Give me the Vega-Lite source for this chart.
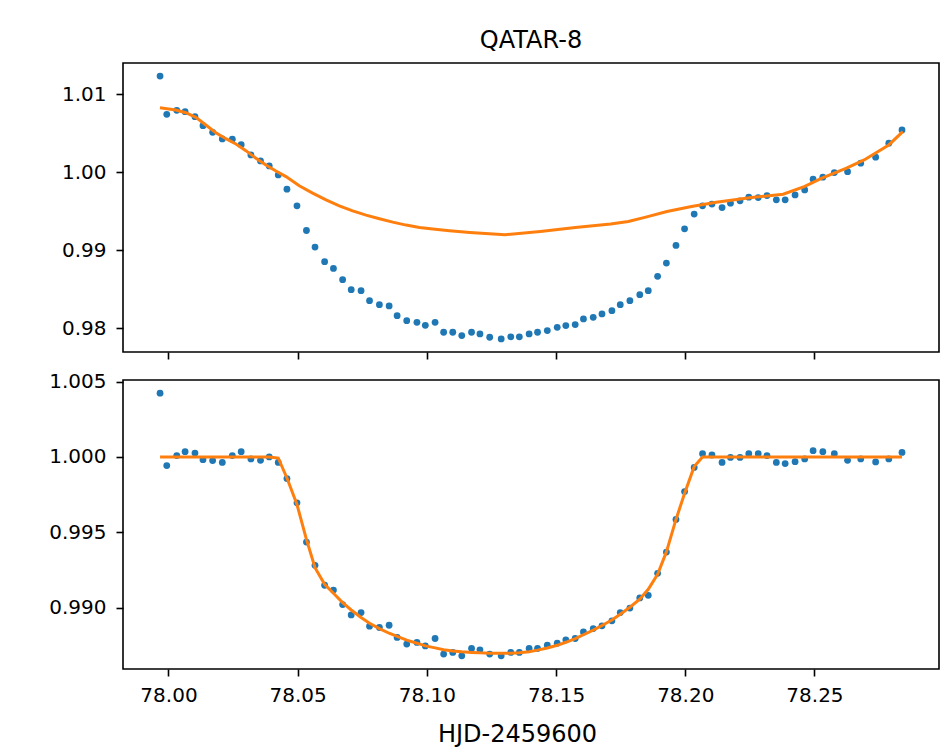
{
  "$schema": "https://vega.github.io/schema/vega-lite/v6.json",
  "background": "white",
  "padding": {"left": 47, "top": 28, "right": 10, "bottom": 5},
  "config": {
    "font": "DejaVu Sans",
    "view": {"stroke": "black", "strokeWidth": 1.6},
    "axis": {
      "domain": false, "grid": false,
      "tickColor": "black", "tickSize": 7, "tickWidth": 1.6,
      "labelFont": "DejaVu Sans", "labelFontSize": 20, "labelColor": "black",
      "titleFont": "DejaVu Sans", "titleFontWeight": "normal", "titleColor": "black"
    }
  },
  "datasets": {
    "obs": [
      {"t": 77.99674, "raw": 1.01230, "flat": 1.00423, "model": 1.00000},
      {"t": 77.99934, "raw": 1.00740, "flat": 0.99943, "model": 1.00000},
      {"t": 78.00320, "raw": 1.00792, "flat": 1.00009, "model": 1.00000},
      {"t": 78.00643, "raw": 1.00774, "flat": 1.00035, "model": 1.00000},
      {"t": 78.01025, "raw": 1.00710, "flat": 1.00026, "model": 1.00000},
      {"t": 78.01335, "raw": 1.00595, "flat": 0.99982, "model": 1.00000},
      {"t": 78.01709, "raw": 1.00510, "flat": 0.99976, "model": 1.00000},
      {"t": 78.02083, "raw": 1.00425, "flat": 0.99964, "model": 1.00000},
      {"t": 78.02471, "raw": 1.00421, "flat": 1.00009, "model": 1.00000},
      {"t": 78.02814, "raw": 1.00352, "flat": 1.00035, "model": 1.00000},
      {"t": 78.03190, "raw": 1.00220, "flat": 0.99987, "model": 1.00000},
      {"t": 78.03562, "raw": 1.00143, "flat": 0.99978, "model": 1.00000},
      {"t": 78.03899, "raw": 1.00079, "flat": 1.00000, "model": 1.00000},
      {"t": 78.04248, "raw": 0.99964, "flat": 0.99964, "model": 0.99993},
      {"t": 78.04585, "raw": 0.99781, "flat": 0.99857, "model": 0.99861},
      {"t": 78.04973, "raw": 0.99568, "flat": 0.99696, "model": 0.99685},
      {"t": 78.05339, "raw": 0.99252, "flat": 0.99436, "model": 0.99454},
      {"t": 78.05671, "raw": 0.99040, "flat": 0.99282, "model": 0.99266},
      {"t": 78.06043, "raw": 0.98852, "flat": 0.99150, "model": 0.99156},
      {"t": 78.06384, "raw": 0.98766, "flat": 0.99118, "model": 0.99097},
      {"t": 78.06740, "raw": 0.98621, "flat": 0.99022, "model": 0.99035},
      {"t": 78.07072, "raw": 0.98494, "flat": 0.98953, "model": 0.98986},
      {"t": 78.07453, "raw": 0.98481, "flat": 0.98969, "model": 0.98936},
      {"t": 78.07781, "raw": 0.98353, "flat": 0.98879, "model": 0.98898},
      {"t": 78.08163, "raw": 0.98302, "flat": 0.98870, "model": 0.98863},
      {"t": 78.08539, "raw": 0.98285, "flat": 0.98885, "model": 0.98832},
      {"t": 78.08849, "raw": 0.98161, "flat": 0.98804, "model": 0.98811},
      {"t": 78.09221, "raw": 0.98097, "flat": 0.98760, "model": 0.98786},
      {"t": 78.09616, "raw": 0.98075, "flat": 0.98771, "model": 0.98766},
      {"t": 78.09940, "raw": 0.98037, "flat": 0.98748, "model": 0.98748},
      {"t": 78.10318, "raw": 0.98075, "flat": 0.98797, "model": 0.98735},
      {"t": 78.10649, "raw": 0.97948, "flat": 0.98694, "model": 0.98722},
      {"t": 78.11002, "raw": 0.97948, "flat": 0.98705, "model": 0.98715},
      {"t": 78.11351, "raw": 0.97905, "flat": 0.98682, "model": 0.98709},
      {"t": 78.11729, "raw": 0.97948, "flat": 0.98731, "model": 0.98705},
      {"t": 78.12054, "raw": 0.97927, "flat": 0.98722, "model": 0.98702},
      {"t": 78.12432, "raw": 0.97884, "flat": 0.98694, "model": 0.98700},
      {"t": 78.12876, "raw": 0.97863, "flat": 0.98682, "model": 0.98699},
      {"t": 78.13248, "raw": 0.97889, "flat": 0.98705, "model": 0.98700},
      {"t": 78.13579, "raw": 0.97889, "flat": 0.98705, "model": 0.98703},
      {"t": 78.13957, "raw": 0.97927, "flat": 0.98731, "model": 0.98710},
      {"t": 78.14283, "raw": 0.97948, "flat": 0.98731, "model": 0.98720},
      {"t": 78.14661, "raw": 0.97969, "flat": 0.98753, "model": 0.98734},
      {"t": 78.15045, "raw": 0.98011, "flat": 0.98766, "model": 0.98752},
      {"t": 78.15378, "raw": 0.98033, "flat": 0.98788, "model": 0.98772},
      {"t": 78.15740, "raw": 0.98046, "flat": 0.98797, "model": 0.98796},
      {"t": 78.16060, "raw": 0.98119, "flat": 0.98841, "model": 0.98822},
      {"t": 78.16438, "raw": 0.98139, "flat": 0.98863, "model": 0.98853},
      {"t": 78.16777, "raw": 0.98183, "flat": 0.98881, "model": 0.98883},
      {"t": 78.17161, "raw": 0.98225, "flat": 0.98914, "model": 0.98920},
      {"t": 78.17484, "raw": 0.98302, "flat": 0.98969, "model": 0.98958},
      {"t": 78.17857, "raw": 0.98353, "flat": 0.98999, "model": 0.99004},
      {"t": 78.18240, "raw": 0.98430, "flat": 0.99066, "model": 0.99057},
      {"t": 78.18568, "raw": 0.98481, "flat": 0.99083, "model": 0.99123},
      {"t": 78.18930, "raw": 0.98664, "flat": 0.99229, "model": 0.99222},
      {"t": 78.19270, "raw": 0.98835, "flat": 0.99370, "model": 0.99371},
      {"t": 78.19641, "raw": 0.99060, "flat": 0.99586, "model": 0.99586},
      {"t": 78.19973, "raw": 0.99274, "flat": 0.99771, "model": 0.99758},
      {"t": 78.20345, "raw": 0.99462, "flat": 0.99931, "model": 0.99936},
      {"t": 78.20669, "raw": 0.99568, "flat": 1.00022, "model": 1.00000},
      {"t": 78.21033, "raw": 0.99590, "flat": 1.00013, "model": 1.00000},
      {"t": 78.21424, "raw": 0.99546, "flat": 0.99964, "model": 1.00000},
      {"t": 78.21750, "raw": 0.99602, "flat": 0.99997, "model": 1.00000},
      {"t": 78.22120, "raw": 0.99632, "flat": 0.99997, "model": 1.00000},
      {"t": 78.22459, "raw": 0.99679, "flat": 1.00022, "model": 1.00000},
      {"t": 78.22824, "raw": 0.99674, "flat": 1.00022, "model": 1.00000},
      {"t": 78.23163, "raw": 0.99700, "flat": 1.00009, "model": 1.00000},
      {"t": 78.23525, "raw": 0.99645, "flat": 0.99964, "model": 1.00000},
      {"t": 78.23866, "raw": 0.99645, "flat": 0.99956, "model": 1.00000},
      {"t": 78.24250, "raw": 0.99708, "flat": 0.99969, "model": 1.00000},
      {"t": 78.24622, "raw": 0.99772, "flat": 0.99987, "model": 1.00000},
      {"t": 78.24948, "raw": 0.99909, "flat": 1.00042, "model": 1.00000},
      {"t": 78.25324, "raw": 0.99935, "flat": 1.00035, "model": 1.00000},
      {"t": 78.25769, "raw": 0.99994, "flat": 1.00022, "model": 1.00000},
      {"t": 78.26281, "raw": 1.00006, "flat": 0.99978, "model": 1.00000},
      {"t": 78.26791, "raw": 1.00114, "flat": 0.99987, "model": 1.00000},
      {"t": 78.27368, "raw": 1.00191, "flat": 0.99967, "model": 1.00000},
      {"t": 78.27878, "raw": 1.00370, "flat": 0.99987, "model": 1.00000},
      {"t": 78.28388, "raw": 1.00540, "flat": 1.00030, "model": 1.00000}
    ],
    "trend": [
      {"t": 77.99671, "flux": 1.00825},
      {"t": 78.00283, "flux": 1.00795},
      {"t": 78.00671, "flux": 1.00761},
      {"t": 78.01058, "flux": 1.00702},
      {"t": 78.01446, "flux": 1.00604},
      {"t": 78.01833, "flux": 1.00505},
      {"t": 78.02221, "flux": 1.00428},
      {"t": 78.02609, "flux": 1.00361},
      {"t": 78.02996, "flux": 1.00275},
      {"t": 78.03384, "flux": 1.00178},
      {"t": 78.03771, "flux": 1.00092},
      {"t": 78.04159, "flux": 1.00015},
      {"t": 78.04547, "flux": 0.99942},
      {"t": 78.05062, "flux": 0.99824},
      {"t": 78.05578, "flux": 0.99730},
      {"t": 78.06097, "flux": 0.99644},
      {"t": 78.06612, "flux": 0.99568},
      {"t": 78.07128, "flux": 0.99504},
      {"t": 78.07647, "flux": 0.99449},
      {"t": 78.08163, "flux": 0.99402},
      {"t": 78.08678, "flux": 0.99359},
      {"t": 78.09198, "flux": 0.99321},
      {"t": 78.09713, "flux": 0.99290},
      {"t": 78.10229, "flux": 0.99270},
      {"t": 78.10876, "flux": 0.99248},
      {"t": 78.11663, "flux": 0.99227},
      {"t": 78.13023, "flux": 0.99197},
      {"t": 78.14388, "flux": 0.99239},
      {"t": 78.15748, "flux": 0.99290},
      {"t": 78.17112, "flux": 0.99334},
      {"t": 78.17795, "flux": 0.99367},
      {"t": 78.18473, "flux": 0.99423},
      {"t": 78.19291, "flux": 0.99495},
      {"t": 78.20244, "flux": 0.99559},
      {"t": 78.21198, "flux": 0.99615},
      {"t": 78.22562, "flux": 0.99674},
      {"t": 78.23787, "flux": 0.99717},
      {"t": 78.24605, "flux": 0.99815},
      {"t": 78.25287, "flux": 0.99922},
      {"t": 78.26240, "flux": 1.00050},
      {"t": 78.26922, "flux": 1.00156},
      {"t": 78.27876, "flux": 1.00348},
      {"t": 78.28419, "flux": 1.00518}
    ]
  },
  "spacing": 28,
  "bounds": "flush",
  "vconcat": [
    {
      "width": 816,
      "height": 289,
      "title": {"text": "QATAR-8", "font": "DejaVu Sans", "fontSize": 24, "fontWeight": "normal", "color": "black", "anchor": "middle", "baseline": "alphabetic", "offset": -9},
      "layer": [
        {
          "data": {"name": "obs"},
          "mark": {"type": "circle", "size": 46, "opacity": 1, "color": "#1f77b4"},
          "encoding": {
            "x": {"field": "t", "type": "quantitative",
                  "scale": {"domain": [77.9824, 78.2982], "nice": false, "zero": false},
                  "axis": {"values": [78.0, 78.05, 78.1, 78.15, 78.2, 78.25], "labels": false, "title": null}},
            "y": {"field": "raw", "type": "quantitative",
                  "scale": {"domain": [0.97695, 1.01398], "nice": false, "zero": false},
                  "axis": {"values": [0.98, 0.99, 1.0, 1.01], "format": ".2f", "title": null, "labelPadding": 10}}
          }
        },
        {
          "data": {"name": "trend"},
          "mark": {"type": "line", "color": "#ff7f0e", "strokeWidth": 3},
          "encoding": {
            "x": {"field": "t", "type": "quantitative"},
            "y": {"field": "flux", "type": "quantitative"}
          }
        }
      ]
    },
    {
      "width": 816,
      "height": 289,
      "data": {"name": "obs"},
      "layer": [
        {
          "mark": {"type": "circle", "size": 46, "opacity": 1, "color": "#1f77b4"},
          "encoding": {
            "x": {"field": "t", "type": "quantitative",
                  "scale": {"domain": [77.9824, 78.2982], "nice": false, "zero": false},
                  "axis": {"values": [78.0, 78.05, 78.1, 78.15, 78.2, 78.25], "format": ".2f", "title": "HJD-2459600", "titleFontSize": 24, "titlePadding": 17, "titleX": 394, "labelPadding": 9}},
            "y": {"field": "flat", "type": "quantitative",
                  "scale": {"domain": [0.98595, 1.0051], "nice": false, "zero": false},
                  "axis": {"values": [0.990, 0.995, 1.000, 1.005], "format": ".3f", "title": null, "labelPadding": 10}}
          }
        },
        {
          "mark": {"type": "line", "color": "#ff7f0e", "strokeWidth": 3},
          "encoding": {
            "x": {"field": "t", "type": "quantitative"},
            "y": {"field": "model", "type": "quantitative"}
          }
        }
      ]
    }
  ]
}
